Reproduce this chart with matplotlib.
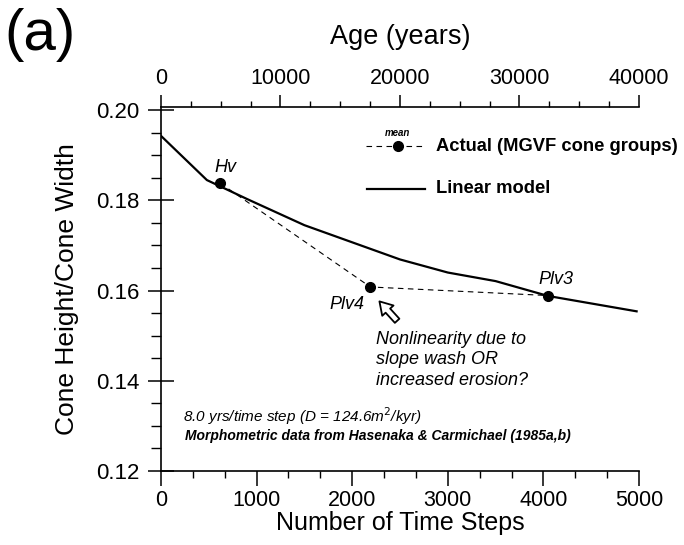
import numpy as np
import matplotlib
matplotlib.use("Agg")
import matplotlib.pyplot as plt
from matplotlib.ticker import MultipleLocator, FixedLocator

plt.rcParams['font.family'] = ['Liberation Sans', 'DejaVu Sans']

## data ##
model_steps = [0, 480, 900, 1500, 2500, 3000, 3500, 4050, 4975]
model_ratio = [0.1943, 0.1845, 0.1803, 0.1745, 0.1669, 0.1640, 0.1621, 0.1588, 0.1554]

group_names = ["Hv", "Plv4", "Plv3"]
group_steps = [620, 2190, 4050]
group_ratio = [0.1838, 0.1608, 0.1589]

age_ticks = [0, 10000, 20000, 30000, 40000]
yrs_per_step = 8.0

fig = plt.figure(figsize=(6.84, 5.45), dpi=100)
ax = fig.add_axes([161/684, 1 - 471/545, (639 - 161)/684, (471 - 107)/545])

ax.plot(model_steps, model_ratio, color='black', linewidth=1.6, solid_joinstyle='miter')
ax.plot(group_steps, group_ratio, color='black', linewidth=0.8, linestyle=(0, (5, 4)),
        marker='o', markersize=7)

ax.set_xlim(0, 5000)
ax.set_ylim(0.12, 0.2007)

ax.spines['right'].set_visible(False)
ax.spines['top'].set_visible(False)
for s in ['left', 'bottom']:
    ax.spines[s].set_linewidth(1.2)

ax.xaxis.set_major_locator(MultipleLocator(1000))
ax.xaxis.set_minor_locator(MultipleLocator(1000/3))
ax.set_yticks([0.12, 0.14, 0.16, 0.18, 0.20])
ax.yaxis.set_minor_locator(MultipleLocator(0.005))
ax.set_yticklabels(["0.12", "0.14", "0.16", "0.18", "0.20"])

ax.tick_params(axis='x', which='major', direction='out', length=10.5, width=1.1, labelsize=15.5, pad=3)
ax.tick_params(axis='x', which='minor', direction='out', length=5, width=1.0)
ax.tick_params(axis='y', which='major', direction='inout', length=19, width=1.1, labelsize=16, pad=6)
ax.tick_params(axis='y', which='minor', direction='out', length=7, width=1.0)

ax.set_xlabel("Number of Time Steps", fontsize=18, labelpad=0)
ax.set_ylabel("Cone Height/Cone Width", fontsize=19, labelpad=12)

## top axis in years ##
top = ax.secondary_xaxis('top', functions=(lambda s: s * yrs_per_step, lambda a: a / yrs_per_step))
top.spines['top'].set_linewidth(1.2)
top.xaxis.set_major_locator(FixedLocator(age_ticks))
top.xaxis.set_minor_locator(FixedLocator(np.arange(0, 40001, 2500)))
top.set_xticklabels([str(a) for a in age_ticks])
top.tick_params(which='major', direction='out', length=8.6, width=1.1, pad=4, labelsize=15.5)
top.tick_params(which='minor', direction='out', length=4.3, width=1.0)
fig.text(400/684, 1 - 37/545, "Age (years)", fontsize=19.5, ha='center', va='center')

fig.text(0.006, 1 - 8/545, "(a)", fontsize=42, ha='left', va='top')

## point labels ##
ax.text(677, 0.1873, "Hv", fontsize=13, style='italic', ha='center', va='center')
ax.text(1948, 0.1570, "Plv4", fontsize=13, style='italic', ha='center', va='center')
ax.text(4136, 0.1624, "Plv3", fontsize=13, style='italic', ha='center', va='center')

## legend drawn by hand ##
ax.plot([2142, 2777], [0.1920, 0.1920], color='black', linewidth=0.8, linestyle=(0, (5, 4)))
ax.plot([2477], [0.1920], color='black', marker='o', markersize=7)
ax.text(2477, 0.1950, "mean", fontsize=7, style='italic', weight='bold', ha='center', va='center')
ax.text(2880, 0.1920, "Actual (MGVF cone groups)", fontsize=13.2, weight='bold', ha='left', va='center')
ax.plot([2160, 2760], [0.1826, 0.1826], color='black', linewidth=1.6)
ax.text(2880, 0.1826, "Linear model", fontsize=13.2, weight='bold', ha='left', va='center')

## annotation ##
ax.annotate("", xy=(2285, 0.1576), xytext=(2470, 0.1533),
            arrowprops=dict(arrowstyle="simple,head_length=0.45,head_width=0.55,tail_width=0.22",
                            mutation_scale=20, fc='white', ec='black', lw=1.3,
                            shrinkA=0, shrinkB=0))
ax.text(2250, 0.1510, "Nonlinearity due to\nslope wash OR\nincreased erosion?", fontsize=13,
        style='italic', ha='left', va='top', linespacing=1.25)

ax.text(229, 0.1322, "8.0 yrs/time step (D = 124.6m$^2$/kyr)", fontsize=11, style='italic',
        ha='left', va='center')
ax.text(253, 0.1278, "Morphometric data from Hasenaka & Carmichael (1985a,b)", fontsize=10,
        style='italic', weight='bold', ha='left', va='center')

fig.savefig("out.png", dpi=100)
